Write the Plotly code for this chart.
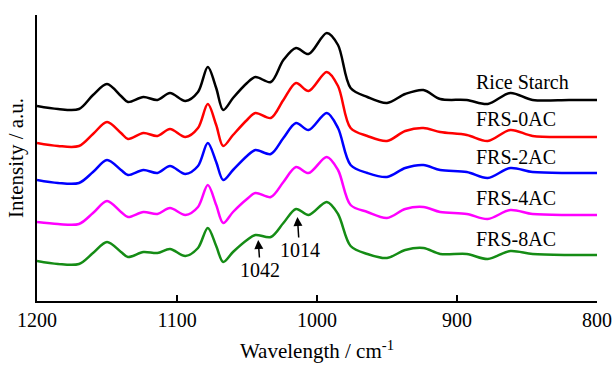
import plotly.graph_objects as go

wavenumber = [1200, 1185, 1170, 1160, 1150, 1140, 1135, 1124, 1114, 1105, 1094, 1085,
              1078, 1072, 1067, 1060, 1050, 1044, 1033, 1024, 1015, 1006, 993, 985,
              976, 964, 950, 937, 924, 912, 893, 878, 862, 846, 820, 800]

rice_starch = [195, 192, 192, 206, 217, 205, 199, 204, 201, 208, 200, 209,
               234, 213, 191, 203, 218, 224, 219, 241, 253, 247, 268, 256,
               213, 204, 198, 207, 211, 202, 201, 197, 208, 201, 201, 201]
frs_0ac = [158, 155, 155, 167, 179, 168, 162, 168, 165, 172, 164, 173,
           197, 176, 155, 166, 181, 188, 183, 201, 218, 210, 229, 215,
           173, 165, 160, 170, 173, 169, 166, 160, 171, 165, 164, 164]
frs_2ac = [121, 118, 118, 129, 141, 131, 126, 131, 128, 135, 127, 135,
           158, 139, 121, 131, 145, 151, 147, 163, 178, 171, 188, 173,
           136, 128, 124, 133, 136, 131, 129, 123, 133, 129, 128, 128]
frs_4ac = [79, 77, 77, 88, 100, 89, 84, 89, 87, 93, 86, 94,
           116, 96, 78, 89, 102, 108, 104, 119, 134, 128, 144, 131,
           96, 89, 83, 92, 94, 89, 87, 82, 91, 87, 86, 86]
frs_8ac = [40, 37, 37, 48, 59, 49, 44, 49, 48, 52, 45, 53,
           73, 55, 39, 49, 61, 66, 64, 78, 92, 86, 99, 87,
           55, 47, 43, 51, 53, 47, 47, 42, 50, 47, 46, 46]

series_names = ["Rice Starch", "FRS-0AC", "FRS-2AC", "FRS-4AC", "FRS-8AC"]
series_values = [rice_starch, frs_0ac, frs_2ac, frs_4ac, frs_8ac]
label_y = [219, 182, 144, 103, 62]
colors = ["#000000", "#ff0000", "#0000ff", "#ff00ff", "#158c15"]

peak_labels = ["1042", "1014"]
peak_positions = [1042, 1014]
peak_arrow_tip = [61, 84]
peak_label_y = [31, 51]

FONT = "Liberation Serif, Times New Roman, serif"

fig = go.Figure()
for name, vals, col in zip(series_names, series_values, colors):
    fig.add_trace(go.Scatter(x=wavenumber, y=vals, mode="lines", name=name,
                             line=dict(color=col, width=2.5, shape="spline", smoothing=0.9),
                             showlegend=False))

annotations = []
for name, ly in zip(series_names, label_y):
    annotations.append(dict(x=888, y=ly, xref="x", yref="y", text=name, showarrow=False,
                            xanchor="left", yanchor="middle",
                            font=dict(family=FONT, size=20, color="black")))

# peak labels with arrows pointing up to the band
for lab, pos, tip, ty in zip(peak_labels, peak_positions, peak_arrow_tip, peak_label_y):
    annotations.append(dict(x=pos, y=tip, ax=pos - 1.5, ay=ty, xref="x", yref="y",
                            axref="x", ayref="y", text=lab, showarrow=True,
                            arrowhead=2, arrowsize=1.2, arrowwidth=1.5, arrowcolor="black",
                            standoff=0, startstandoff=0,
                            font=dict(family=FONT, size=20, color="black")))

fig.update_layout(
    width=612, height=365,
    margin=dict(l=37, r=15, t=15, b=64),
    paper_bgcolor="white", plot_bgcolor="white",
    font=dict(family=FONT, size=20, color="black"),
    annotations=annotations,
    xaxis=dict(range=[1200, 800], tickvals=[1200, 1100, 1000, 900, 800],
               ticks="inside", ticklen=6, tickwidth=1.5, tickcolor="black",
               showline=True, linecolor="black", linewidth=1.5, mirror=False,
               showgrid=False, zeroline=False, automargin=False,
               tickfont=dict(family=FONT, size=20, color="black"),
               title=dict(text="Wavelength / cm<sup>-1</sup>", standoff=14,
                          font=dict(family=FONT, size=21, color="black"))),
    yaxis=dict(range=[0, 286], showticklabels=False, ticks="",
               showline=True, linecolor="black", linewidth=1.5,
               showgrid=False, zeroline=False, automargin=False,
               title=dict(text="Intensity / a.u.", standoff=6,
                          font=dict(family=FONT, size=21, color="black"))),
)

fig.write_html("out.html", config={"displayModeBar": False},
               post_script="document.body.style.margin='0';document.body.style.overflow='hidden';")
